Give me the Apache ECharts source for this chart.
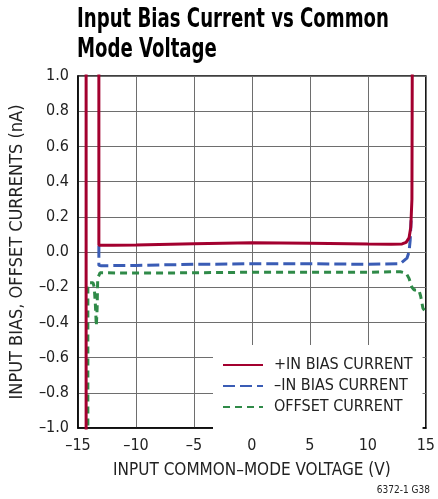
<!DOCTYPE html>
<html>
<head>
<meta charset="utf-8">
<script src="https://cdn.jsdelivr.net/npm/echarts@6/dist/echarts.min.js"></script>
<style>
  html, body { margin: 0; padding: 0; background: #fff; }
  #chart { width: 438px; height: 499px; }
</style>
</head>
<body>
<div id="chart"></div>
<script>
// Input common-mode voltage (V) and current (nA) for each trace
const plusInV  = [-14.3, -14.3, -13.2, -13.2, -12, -10, -5, 0, 5, 10, 12, 12.95, 13.3, 13.55, 13.7, 13.8, 13.85];
const plusInI  = [-1.6, 1.6, 1.6, 0.038, 0.038, 0.04, 0.047, 0.053, 0.05, 0.045, 0.044, 0.046, 0.055, 0.08, 0.14, 0.3, 1.6];

const minusInV = [-13.2, -13.2, -13.0, -10, -5, 0, 5, 10, 12.8, 13.37, 13.55, 13.65, 13.73];
const minusInI = [0.035, -0.076, -0.078, -0.076, -0.07, -0.067, -0.067, -0.07, -0.066, -0.035, 0.0, 0.068, 0.18];

const offsetV  = [-14.15, -14.15, -14.05, -13.7, -13.6, -13.5, -13.42, -13.35, -13.3, -13.1, -10, -5, 0, 5, 10, 12.8, 13.3, 13.55, 13.8, 14.0, 14.4, 14.55, 14.75, 15];
const offsetI  = [-1.6, -0.2, -0.175, -0.175, -0.2, -0.3, -0.42, -0.32, -0.15, -0.118, -0.12, -0.118, -0.115, -0.115, -0.115, -0.112, -0.12, -0.15, -0.2, -0.216, -0.216, -0.25, -0.32, -0.34];

const seriesNames = ['+IN BIAS CURRENT', '\u2013IN BIAS CURRENT', 'OFFSET CURRENT'];

// Axis ticks
const xTicks = [-15, -10, -5, 0, 5, 10, 15];
const yTicks = [-1.0, -0.8, -0.6, -0.4, -0.2, 0.0, 0.2, 0.4, 0.6, 0.8, 1.0];

const zip = (xs, ys) => xs.map((x, i) => [x, ys[i]]);
const minusSign = s => s.replace('-', '\u2013');

const FONT = "'Liberation Sans Narrow', 'DejaVu Sans Condensed', 'Liberation Sans', sans-serif";

const chart = echarts.init(document.getElementById('chart'), null, { renderer: 'canvas' });

chart.setOption({
  animation: false,
  backgroundColor: '#fff',
  graphic: [
    {
      // narrow bold heading, squeezed horizontally
      type: 'text',
      x: 77,
      y: 5,
      scaleX: 0.775,
      scaleY: 1,
      style: {
        text: 'Input Bias Current vs Common\nMode Voltage',
        font: "bold 26px " + FONT,
        lineHeight: 30,
        fill: '#000'
      }
    },
    {
      type: 'text',
      right: 8,
      bottom: 4,
      style: { text: '6372-1 G38', font: "10px " + FONT, fill: '#222' }
    }
  ],
  grid: {
    left: 78, right: 8, top: 76, bottom: 71,
    show: true,
    borderColor: '#000',
    borderWidth: 1.5
  },
  legend: {
    data: seriesNames,
    orient: 'vertical',
    left: 213,
    top: 345,
    padding: [12, 10, 15, 9],
    backgroundColor: '#fff',
    itemWidth: 40,
    itemHeight: 14,
    itemGap: 5,
    itemStyle: { opacity: 0 },
    textStyle: {
      fontFamily: FONT,
      fontSize: 16,
      lineHeight: 14,
      color: '#222',
      padding: [0, 0, 0, 6]
    }
  },
  xAxis: {
    type: 'value',
    min: xTicks[0],
    max: xTicks[xTicks.length - 1],
    interval: xTicks[1] - xTicks[0],
    name: 'INPUT COMMON\u2013MODE VOLTAGE (V)',
    nameLocation: 'middle',
    nameGap: 34,
    nameTextStyle: { fontFamily: FONT, fontSize: 17, color: '#222' },
    axisLine: { show: true, onZero: false, lineStyle: { color: '#000', width: 1.5 } },
    axisTick: { show: false },
    axisLabel: {
      fontFamily: FONT, fontSize: 16, color: '#222', margin: 10,
      formatter: v => minusSign(String(v))
    },
    splitLine: { show: true, lineStyle: { color: '#6e6e6e', width: 1 } }
  },
  yAxis: {
    type: 'value',
    min: yTicks[0],
    max: yTicks[yTicks.length - 1],
    interval: 0.2,
    name: 'INPUT BIAS, OFFSET CURRENTS (nA)',
    nameLocation: 'middle',
    nameGap: 52,
    nameTextStyle: { fontFamily: FONT, fontSize: 18, color: '#222' },
    axisLine: { show: true, onZero: false, lineStyle: { color: '#000', width: 1.5 } },
    axisTick: { show: false },
    axisLabel: {
      fontFamily: FONT, fontSize: 16, color: '#222', margin: 9,
      formatter: v => minusSign(v.toFixed(1))
    },
    splitLine: { show: true, lineStyle: { color: '#6e6e6e', width: 1 } }
  },
  series: [
    {
      name: seriesNames[0], type: 'line', symbol: 'none', clip: true,
      data: zip(plusInV, plusInI),
      lineStyle: { color: '#a3002f', width: 3 },
      itemStyle: { color: '#a3002f' },
      z: 4
    },
    {
      name: seriesNames[1], type: 'line', symbol: 'none', clip: true,
      data: zip(minusInV, minusInI),
      lineStyle: { color: '#3a5cb5', width: 3, type: [12, 5] },
      itemStyle: { color: '#3a5cb5' },
      z: 3
    },
    {
      name: seriesNames[2], type: 'line', symbol: 'none', clip: true,
      data: zip(offsetV, offsetI),
      lineStyle: { color: '#2f8a48', width: 3, type: [7, 5] },
      itemStyle: { color: '#2f8a48' },
      z: 2
    }
  ]
});
</script>
</body>
</html>
